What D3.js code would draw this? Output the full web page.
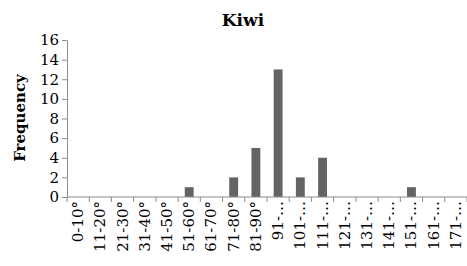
<!DOCTYPE html>
<html>
<head>
<meta charset="utf-8">
<script src="https://cdn.jsdelivr.net/npm/d3@7"></script>
<style>
  body { margin: 0; background: #fff; }
  svg text { font-family: "DejaVu Serif", serif; fill: #000; }
</style>
</head>
<body>
<div id="chart"></div>
<script>
// bins and counts
var categories = ["0-10°", "11-20°", "21-30°", "31-40°", "41-50°", "51-60°", "61-70°",
  "71-80°", "81-90°", "91-…", "101-…", "111-…", "121-…", "131-…", "141-…", "151-…",
  "161-…", "171-…"];
var frequency = [0, 0, 0, 0, 0, 1, 0, 2, 5, 13, 2, 4, 0, 0, 0, 1, 0, 0];
var yTicks = [0, 2, 4, 6, 8, 10, 12, 14, 16];

var width = 467, height = 266;
var margin = {top: 40, right: 0, bottom: 69, left: 67};

var svg = d3.select("#chart").append("svg")
  .attr("width", width)
  .attr("height", height);

var x = d3.scaleBand()
  .domain(categories)
  .range([margin.left, width - margin.right])
  .paddingInner(0.6)
  .paddingOuter(0.3);

var y = d3.scaleLinear()
  .domain([0, 16])
  .range([height - margin.bottom, margin.top]);

// bars
svg.append("g").selectAll("rect")
  .data(frequency)
  .enter().append("rect")
  .attr("x", function (d, i) { return x(categories[i]); })
  .attr("y", function (d) { return y(d); })
  .attr("width", x.bandwidth())
  .attr("height", function (d) { return y(0) - y(d); })
  .attr("fill", "#646464");

// y axis
var yAxis = svg.append("g")
  .attr("transform", "translate(" + margin.left + ",0)")
  .call(d3.axisLeft(y).tickValues(yTicks).tickSize(5).tickSizeOuter(0).tickPadding(3));
yAxis.select(".domain").attr("stroke", "#8c8c8c");
yAxis.selectAll(".tick line").attr("stroke", "#8c8c8c");
yAxis.selectAll("text").style("font-size", "15px");

// x axis: ticks sit on the bin boundaries, excel style
var step = x.step();
var xg = svg.append("g")
  .attr("transform", "translate(0," + y(0) + ")");
xg.append("line")
  .attr("x1", margin.left).attr("x2", width)
  .attr("stroke", "#8c8c8c");
xg.selectAll(".bound")
  .data(d3.range(categories.length + 1))
  .enter().append("line")
  .attr("x1", function (i) { return margin.left + i * step; })
  .attr("x2", function (i) { return margin.left + i * step; })
  .attr("y2", 5)
  .attr("stroke", "#8c8c8c");
xg.selectAll(".lbl")
  .data(categories)
  .enter().append("text")
  .attr("transform", function (d) {
    return "translate(" + (x(d) + x.bandwidth() / 2 + 5) + ",4) rotate(-90)";
  })
  .attr("text-anchor", "end")
  .style("font-size", "15px")
  .text(function (d) { return d; });

// title and axis title
svg.append("text")
  .attr("x", 243).attr("y", 26)
  .attr("text-anchor", "middle")
  .style("font-size", "17px").style("font-weight", "bold")
  .text("Kiwi");

svg.append("text")
  .attr("transform", "translate(25,118) rotate(-90)")
  .attr("text-anchor", "middle")
  .style("font-size", "15px").style("font-weight", "bold")
  .text("Frequency");
</script>
</body>
</html>
